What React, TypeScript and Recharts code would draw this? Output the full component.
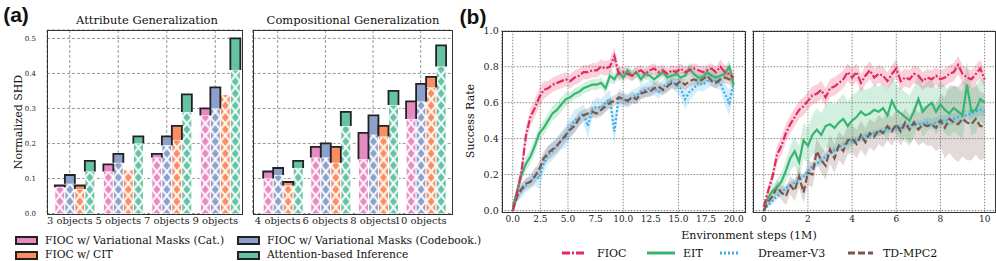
import React from "react";
import { BarChart, Bar, XAxis, YAxis, CartesianGrid, ComposedChart, Line, Area } from "recharts";

// ---------- panel (a): normalized SHD ----------
const attrCategories = ["3 objects", "5 objects", "7 objects", "9 objects"];
const compCategories = ["4 objects", "6 objects", "8 objects", "10 objects"];
const shdTicks = [0, 0.1, 0.2, 0.3, 0.4, 0.5];

// hatched part = lower value, outlined box on top = upper value
const attrCatLow = [0.075, 0.12, 0.16, 0.28];
const attrCatHigh = [0.08, 0.14, 0.17, 0.3];
const attrCodeLow = [0.085, 0.145, 0.195, 0.3];
const attrCodeHigh = [0.11, 0.17, 0.22, 0.36];
const attrCitLow = [0.07, 0.125, 0.21, 0.34];
const attrCitHigh = [0.08, 0.125, 0.25, 0.34];
const attrAttnLow = [0.12, 0.2, 0.29, 0.41];
const attrAttnHigh = [0.15, 0.22, 0.34, 0.5];

const compCatLow = [0.1, 0.16, 0.155, 0.27];
const compCatHigh = [0.12, 0.19, 0.23, 0.32];
const compCodeLow = [0.11, 0.16, 0.225, 0.32];
const compCodeHigh = [0.13, 0.2, 0.28, 0.37];
const compCitLow = [0.08, 0.145, 0.22, 0.36];
const compCitHigh = [0.09, 0.19, 0.25, 0.39];
const compAttnLow = [0.13, 0.25, 0.31, 0.42];
const compAttnHigh = [0.15, 0.29, 0.35, 0.48];

const methods = [
  { key: "cat", name: "FIOC w/ Variational Masks (Cat.)", color: "#e78ac3" },
  { key: "code", name: "FIOC w/ Variational Masks (Codebook.)", color: "#8da0cb" },
  { key: "cit", name: "FIOC w/ CIT", color: "#fc8d62" },
  { key: "attn", name: "Attention-based Inference", color: "#66c2a5" },
];

// ---------- panel (b): success rate ----------
const leftSteps = [0, 0.4, 0.8, 1.2, 1.6, 2, 2.4, 2.8, 3.2, 3.6, 4, 4.4, 4.8, 5.2, 5.6, 6, 6.4, 6.8, 7.2, 7.6, 8, 8.4, 8.8, 9.2, 9.6, 10, 10.4, 10.8, 11.2, 11.6, 12, 12.4, 12.8, 13.2, 13.6, 14, 14.4, 14.8, 15.2, 15.6, 16, 16.4, 16.8, 17.2, 17.6, 18, 18.4, 18.8, 19.2, 19.6, 20];
const leftTicks = [0, 2.5, 5, 7.5, 10, 12.5, 15, 17.5, 20];
const leftFioc = [0.0, 0.1, 0.22, 0.42, 0.52, 0.57, 0.63, 0.67, 0.68, 0.7, 0.71, 0.72, 0.73, 0.72, 0.74, 0.75, 0.77, 0.77, 0.78, 0.78, 0.8, 0.79, 0.8, 0.86, 0.76, 0.77, 0.76, 0.75, 0.77, 0.78, 0.76, 0.78, 0.79, 0.77, 0.78, 0.76, 0.78, 0.77, 0.79, 0.77, 0.78, 0.79, 0.78, 0.77, 0.78, 0.79, 0.77, 0.8, 0.77, 0.76, 0.74];
const leftFiocSpread = [0.01, 0.03, 0.05, 0.05, 0.05, 0.05, 0.05, 0.05, 0.04, 0.04, 0.04, 0.04, 0.04, 0.04, 0.04, 0.04, 0.04, 0.04, 0.04, 0.04, 0.04, 0.04, 0.04, 0.05, 0.04, 0.03, 0.03, 0.03, 0.03, 0.03, 0.03, 0.03, 0.03, 0.03, 0.03, 0.03, 0.03, 0.03, 0.03, 0.03, 0.03, 0.03, 0.03, 0.03, 0.03, 0.03, 0.03, 0.04, 0.04, 0.04, 0.04];
const leftEit = [0.02, 0.11, 0.2, 0.26, 0.3, 0.36, 0.43, 0.46, 0.5, 0.54, 0.56, 0.59, 0.62, 0.63, 0.65, 0.66, 0.68, 0.69, 0.7, 0.7, 0.71, 0.68, 0.75, 0.73, 0.77, 0.74, 0.78, 0.75, 0.77, 0.73, 0.76, 0.75, 0.73, 0.75, 0.77, 0.74, 0.75, 0.76, 0.74, 0.75, 0.79, 0.76, 0.74, 0.74, 0.77, 0.75, 0.74, 0.75, 0.76, 0.8, 0.7];
const leftEitSpread = [0.01, 0.03, 0.04, 0.04, 0.04, 0.04, 0.04, 0.04, 0.04, 0.04, 0.04, 0.04, 0.04, 0.03, 0.03, 0.03, 0.03, 0.03, 0.03, 0.03, 0.03, 0.03, 0.04, 0.03, 0.03, 0.03, 0.03, 0.03, 0.03, 0.03, 0.03, 0.03, 0.03, 0.03, 0.03, 0.03, 0.03, 0.03, 0.03, 0.03, 0.03, 0.03, 0.03, 0.03, 0.03, 0.03, 0.03, 0.03, 0.03, 0.04, 0.04];
const leftDreamer = [0.0, 0.08, 0.11, 0.14, 0.16, 0.19, 0.18, 0.26, 0.31, 0.33, 0.36, 0.39, 0.41, 0.46, 0.5, 0.52, 0.54, 0.47, 0.56, 0.58, 0.57, 0.6, 0.62, 0.44, 0.63, 0.62, 0.61, 0.63, 0.64, 0.66, 0.67, 0.68, 0.68, 0.66, 0.69, 0.7, 0.72, 0.7, 0.68, 0.62, 0.66, 0.68, 0.71, 0.7, 0.72, 0.73, 0.72, 0.71, 0.65, 0.6, 0.71];
const leftDreamerSpread = [0.01, 0.03, 0.04, 0.04, 0.04, 0.05, 0.06, 0.05, 0.05, 0.05, 0.05, 0.05, 0.06, 0.06, 0.06, 0.05, 0.05, 0.07, 0.05, 0.05, 0.05, 0.05, 0.05, 0.08, 0.05, 0.04, 0.04, 0.04, 0.04, 0.04, 0.04, 0.04, 0.04, 0.04, 0.04, 0.04, 0.04, 0.04, 0.05, 0.06, 0.05, 0.04, 0.04, 0.04, 0.04, 0.04, 0.04, 0.04, 0.06, 0.07, 0.05];
const leftTd = [0.0, 0.08, 0.12, 0.15, 0.16, 0.19, 0.23, 0.29, 0.32, 0.34, 0.36, 0.39, 0.42, 0.45, 0.47, 0.51, 0.53, 0.54, 0.55, 0.54, 0.56, 0.58, 0.6, 0.61, 0.63, 0.62, 0.61, 0.63, 0.62, 0.65, 0.66, 0.66, 0.68, 0.69, 0.67, 0.69, 0.71, 0.7, 0.72, 0.7, 0.72, 0.73, 0.72, 0.73, 0.75, 0.72, 0.71, 0.73, 0.74, 0.73, 0.72];
const leftTdSpread = [0.01, 0.03, 0.03, 0.03, 0.03, 0.04, 0.04, 0.04, 0.04, 0.04, 0.04, 0.04, 0.04, 0.04, 0.04, 0.04, 0.03, 0.03, 0.03, 0.03, 0.03, 0.03, 0.03, 0.03, 0.03, 0.03, 0.03, 0.03, 0.03, 0.03, 0.03, 0.03, 0.03, 0.03, 0.03, 0.03, 0.03, 0.03, 0.03, 0.03, 0.03, 0.03, 0.03, 0.03, 0.03, 0.03, 0.03, 0.03, 0.03, 0.03, 0.03];

const rightSteps = [0, 0.2, 0.4, 0.6, 0.8, 1, 1.2, 1.4, 1.6, 1.8, 2, 2.2, 2.4, 2.6, 2.8, 3, 3.2, 3.4, 3.6, 3.8, 4, 4.2, 4.4, 4.6, 4.8, 5, 5.2, 5.4, 5.6, 5.8, 6, 6.2, 6.4, 6.6, 6.8, 7, 7.2, 7.4, 7.6, 7.8, 8, 8.2, 8.4, 8.6, 8.8, 9, 9.2, 9.4, 9.6, 9.8, 10];
const rightTicks = [0, 2, 4, 6, 8, 10];
const rightFioc = [0.02, 0.11, 0.19, 0.31, 0.36, 0.43, 0.48, 0.52, 0.56, 0.58, 0.61, 0.64, 0.65, 0.67, 0.63, 0.68, 0.69, 0.71, 0.73, 0.77, 0.74, 0.77, 0.71, 0.75, 0.78, 0.74, 0.76, 0.75, 0.72, 0.76, 0.79, 0.72, 0.74, 0.73, 0.76, 0.75, 0.72, 0.74, 0.73, 0.75, 0.73, 0.74, 0.76, 0.77, 0.81, 0.76, 0.74, 0.73, 0.76, 0.79, 0.73];
const rightFiocSpread = [0.01, 0.03, 0.04, 0.05, 0.05, 0.05, 0.05, 0.05, 0.05, 0.05, 0.05, 0.05, 0.05, 0.05, 0.05, 0.05, 0.05, 0.05, 0.05, 0.05, 0.05, 0.05, 0.05, 0.05, 0.05, 0.05, 0.05, 0.05, 0.05, 0.05, 0.05, 0.05, 0.05, 0.05, 0.05, 0.05, 0.05, 0.05, 0.05, 0.05, 0.05, 0.05, 0.05, 0.05, 0.05, 0.05, 0.05, 0.05, 0.05, 0.05, 0.05];
const rightEit = [0.02, 0.07, 0.11, 0.13, 0.16, 0.22, 0.29, 0.33, 0.27, 0.39, 0.36, 0.42, 0.45, 0.42, 0.47, 0.48, 0.46, 0.49, 0.51, 0.47, 0.5, 0.52, 0.55, 0.53, 0.54, 0.56, 0.55, 0.57, 0.53, 0.61, 0.56, 0.54, 0.52, 0.5, 0.55, 0.62, 0.55, 0.58, 0.6, 0.55, 0.59, 0.56, 0.54, 0.57, 0.55, 0.53, 0.7, 0.55, 0.56, 0.62, 0.6];
const rightEitSpread = [0.01, 0.02, 0.03, 0.04, 0.05, 0.06, 0.07, 0.08, 0.09, 0.1, 0.1, 0.11, 0.12, 0.12, 0.12, 0.13, 0.13, 0.13, 0.14, 0.14, 0.14, 0.14, 0.14, 0.14, 0.14, 0.14, 0.14, 0.14, 0.14, 0.14, 0.14, 0.14, 0.14, 0.14, 0.14, 0.14, 0.14, 0.14, 0.13, 0.13, 0.13, 0.13, 0.13, 0.13, 0.13, 0.13, 0.13, 0.13, 0.13, 0.12, 0.12];
const rightDreamer = [0.0, 0.03, 0.055, 0.08, 0.1, 0.125, 0.14, 0.155, 0.17, 0.19, 0.22, 0.245, 0.26, 0.28, 0.3, 0.32, 0.335, 0.35, 0.365, 0.38, 0.39, 0.39, 0.4, 0.415, 0.42, 0.43, 0.435, 0.44, 0.455, 0.45, 0.46, 0.46, 0.47, 0.47, 0.48, 0.48, 0.485, 0.49, 0.48, 0.49, 0.5, 0.5, 0.505, 0.51, 0.52, 0.525, 0.53, 0.54, 0.55, 0.56, 0.55];
const rightDreamerSpread = [0.01, 0.01, 0.02, 0.02, 0.02, 0.02, 0.02, 0.02, 0.02, 0.02, 0.02, 0.02, 0.02, 0.02, 0.02, 0.02, 0.02, 0.02, 0.02, 0.02, 0.02, 0.02, 0.02, 0.02, 0.02, 0.02, 0.02, 0.02, 0.02, 0.02, 0.02, 0.02, 0.02, 0.02, 0.02, 0.02, 0.02, 0.03, 0.03, 0.03, 0.03, 0.03, 0.03, 0.03, 0.03, 0.03, 0.03, 0.03, 0.03, 0.03, 0.03];
const rightTd = [0.0, 0.05, 0.08, 0.13, 0.1, 0.08, 0.14, 0.11, 0.19, 0.1, 0.21, 0.2, 0.33, 0.28, 0.25, 0.34, 0.29, 0.36, 0.33, 0.39, 0.4, 0.37, 0.42, 0.38, 0.43, 0.41, 0.45, 0.43, 0.47, 0.44, 0.48, 0.44, 0.49, 0.45, 0.49, 0.45, 0.48, 0.47, 0.48, 0.46, 0.5, 0.46, 0.51, 0.49, 0.48, 0.51, 0.49, 0.48, 0.51, 0.47, 0.47];
const rightTdSpread = [0.01, 0.02, 0.03, 0.04, 0.04, 0.05, 0.05, 0.06, 0.06, 0.06, 0.07, 0.07, 0.07, 0.07, 0.08, 0.08, 0.08, 0.08, 0.08, 0.08, 0.08, 0.08, 0.08, 0.08, 0.08, 0.08, 0.08, 0.08, 0.08, 0.08, 0.08, 0.08, 0.08, 0.08, 0.09, 0.09, 0.1, 0.11, 0.12, 0.13, 0.15, 0.17, 0.19, 0.2, 0.21, 0.21, 0.21, 0.2, 0.2, 0.19, 0.18];
const rateTicks = [0, 0.2, 0.4, 0.6, 0.8, 1.0];

const series = [
  { key: "fioc", name: "FIOC", color: "#e32b5f", dash: "8 2 2 2" },
  { key: "eit", name: "EIT", color: "#35b56f", dash: undefined },
  { key: "dreamer", name: "Dreamer-V3", color: "#3aaee6", dash: "2 2" },
  { key: "td", name: "TD-MPC2", color: "#7a5650", dash: "7 3" },
];

const FONT = "DejaVu Serif";
const SHIFT = 4.5; // bar groups sit a bit right of the tick

function shdRows(cats: string[], lows: number[][], highs: number[][]) {
  return cats.map((name, i) => {
    const row: any = { name };
    methods.forEach((m, j) => {
      row[m.key + "Low"] = lows[j][i];
      row[m.key + "Top"] = Math.max(0, highs[j][i] - lows[j][i]);
    });
    return row;
  });
}

function rateRows(steps: number[], means: number[][], spreads: number[][]) {
  return steps.map((step, i) => {
    const row: any = { step };
    series.forEach((s, j) => {
      row[s.key] = means[j][i];
      row[s.key + "Band"] = [means[j][i] - spreads[j][i], means[j][i] + spreads[j][i]];
    });
    return row;
  });
}

const attrData = shdRows(attrCategories, [attrCatLow, attrCodeLow, attrCitLow, attrAttnLow], [attrCatHigh, attrCodeHigh, attrCitHigh, attrAttnHigh]);
const compData = shdRows(compCategories, [compCatLow, compCodeLow, compCitLow, compAttnLow], [compCatHigh, compCodeHigh, compCitHigh, compAttnHigh]);
const leftData = rateRows(leftSteps, [leftFioc, leftEit, leftDreamer, leftTd], [leftFiocSpread, leftEitSpread, leftDreamerSpread, leftTdSpread]);
const rightData = rateRows(rightSteps, [rightFioc, rightEit, rightDreamer, rightTd], [rightFiocSpread, rightEitSpread, rightDreamerSpread, rightTdSpread]);

function hatchShape(chartId: string, key: string, color: string) {
  return (p: any) => {
    const { x, y, width, height, index } = p;
    if (!height || height <= 0) return <g />;
    const id = `${chartId}-${key}-${index}`;
    const bx = x + SHIFT;
    const ph = width * 1.2;
    return (
      <g>
        <defs>
          <pattern id={id} patternUnits="userSpaceOnUse" x={bx} y={y + height} width={width} height={ph}>
            <rect width={width} height={ph} fill={color} />
            <path d={`M0,0 L${width},${ph} M${width},0 L0,${ph}`} stroke="#fff" strokeWidth={2} />
          </pattern>
        </defs>
        <rect x={bx} y={y} width={width} height={height} fill={`url(#${id})`} stroke="#fff" strokeWidth={1} />
      </g>
    );
  };
}

function topShape(color: string) {
  return (p: any) => {
    const { x, y, width, height } = p;
    if (!height || height <= 0) return <g />;
    const bx = x + SHIFT;
    return (
      <g>
        <rect x={bx} y={y} width={width} height={height} fill={color} />
        <path d={`M${bx},${y + height} V${y} H${bx + width} V${y + height}`} fill="none" stroke="#222" strokeWidth={1.8} />
      </g>
    );
  };
}

function ShdChart({ id, data, showY, padding, marginLeft, width }: any) {
  return (
    <BarChart width={width} height={235} data={data} barCategoryGap="10%" barGap={0}
      margin={{ top: 30, right: 0, bottom: 0, left: marginLeft }}>
      <CartesianGrid stroke="#999" strokeDasharray="3 2" />
      <XAxis dataKey="name" interval={0} padding={padding} height={21.5} axisLine={false} tickLine={false}
        tickSize={0} tickMargin={3} tick={{ fontSize: 10, fill: "#222", fontFamily: FONT }} />
      <YAxis domain={[0, 0.524]} ticks={shdTicks} hide={!showY} width={30} axisLine={false} tickLine={false}
        tickSize={0} tickMargin={11} tickFormatter={(v: number) => v.toFixed(1)}
        tick={{ fontSize: 7, fill: "#222", fontFamily: FONT }} allowDataOverflow />
      {methods.map((m) => (
        <Bar key={m.key + "Low"} dataKey={m.key + "Low"} stackId={m.key} fill={m.color}
          shape={hatchShape(id, m.key, m.color)} isAnimationActive={false} />
      ))}
      {methods.map((m) => (
        <Bar key={m.key + "Top"} dataKey={m.key + "Top"} stackId={m.key} fill={m.color}
          shape={topShape(m.color)} isAnimationActive={false} />
      ))}
    </BarChart>
  );
}

function RateChart({ data, ticks, domain, showY, width, marginLeft }: any) {
  const order = ["dreamer", "td", "eit", "fioc"];
  const drawn = order.map((k) => series.find((s) => s.key === k)!);
  return (
    <ComposedChart width={width} height={230.3} data={data}
      margin={{ top: 30.8, right: 0.3, bottom: 0, left: marginLeft }}>
      <CartesianGrid stroke="#8a8a8a" strokeDasharray="1.5 1.5" />
      <XAxis type="number" dataKey="step" domain={domain} ticks={ticks} height={18} axisLine={false}
        tickLine={false} tickSize={0} tickMargin={3} allowDataOverflow
        tickFormatter={(v: number) => (domain[1] > 12 ? v.toFixed(1) : String(v))}
        tick={{ fontSize: 9, fill: "#222", fontFamily: FONT }} />
      <YAxis domain={[0, 1]} ticks={rateTicks} hide={!showY} width={30} axisLine={false} tickLine={false}
        tickSize={0} tickMargin={3} tickFormatter={(v: number) => v.toFixed(1)}
        tick={{ fontSize: 9.5, fill: "#222", fontFamily: FONT }} />
      {drawn.map((s) => (
        <Area key={s.key + "Band"} type="linear" dataKey={s.key + "Band"} stroke="none" fill={s.color}
          fillOpacity={0.22} isAnimationActive={false} />
      ))}
      {drawn.map((s) => (
        <Line key={s.key} type="linear" dataKey={s.key} stroke={s.color} strokeWidth={2.2}
          strokeDasharray={s.dash} dot={false} isAnimationActive={false} />
      ))}
    </ComposedChart>
  );
}

const abs = (left: number, top: number, extra: any = {}) => ({ position: "absolute" as const, left, top, ...extra });

function Frame({ x, y, w, h }: any) {
  return <div style={abs(x, y, { width: w, height: h, border: "1px solid #333", boxSizing: "border-box", pointerEvents: "none" })} />;
}

function Text({ x, y, children, size = 11, rotate = 0, weight = 400, family = FONT, align = "center" }: any) {
  const tx = align === "center" ? "-50%" : "0";
  return (
    <div style={abs(x, y, {
      transform: `translate(${tx}, -50%) rotate(${rotate}deg)`, fontSize: size, fontFamily: family,
      fontWeight: weight, whiteSpace: "nowrap", color: "#111", lineHeight: 1,
    })}>{children}</div>
  );
}

function LineSwatch({ x, y, color, dash, w }: any) {
  return (
    <svg style={abs(x, y - 4)} width={w} height={8}>
      <line x1={0} y1={4} x2={w} y2={4} stroke={color} strokeWidth={3} strokeDasharray={dash} />
    </svg>
  );
}

export default function App() {
  return (
    <div style={{ position: "absolute", left: 0, top: 0, width: 996, height: 261, background: "#fff", overflow: "hidden" }}>
      <div style={abs(0, 0)}>
        <ShdChart id="attr" data={attrData} showY padding={{ left: -1.5, right: 3.5 }} marginLeft={17} width={243} />
      </div>
      <div style={abs(250, 0)}>
        <ShdChart id="comp" data={compData} showY={false} padding={{ left: 1.2, right: 8 }} marginLeft={2.7} width={202.5} />
      </div>
      <Frame x={47} y={30} w={196} h={184.5} />
      <Frame x={252.5} y={30} w={200} h={184.5} />

      <div style={abs(460, 0)}>
        <RateChart data={leftData} ticks={leftTicks} domain={[-1, 21]} showY width={285} marginLeft={11.7} />
      </div>
      <div style={abs(748, 0)}>
        <RateChart data={rightData} ticks={rightTicks} domain={[-0.5, 10.5]} showY={false} width={248} marginLeft={4.7} />
      </div>
      <Frame x={501.5} y={30.5} w={244} h={182.5} />
      <Frame x={752.5} y={30.5} w={243.5} h={182.5} />

      <Text x={16} y={14} size={21} weight={700} family="Liberation Sans">(a)</Text>
      <Text x={473} y={16} size={21} weight={700} family="Liberation Sans">(b)</Text>
      <Text x={147} y={21} size={11.5}>Attribute Generalization</Text>
      <Text x={353} y={21} size={11.5}>Compositional Generalization</Text>
      <Text x={18} y={122} size={11} rotate={-90}>Normalized SHD</Text>
      <Text x={470} y={121} size={11} rotate={-90}>Success Rate</Text>
      <Text x={749} y={235} size={11}>Environment steps (1M)</Text>

      {methods.map((m, i) => {
        const col = i === 0 || i === 2 ? 0 : 1;
        const row = i < 2 ? 0 : 1;
        const sx = col === 0 ? 15 : 237;
        const cy = row === 0 ? 240.7 : 255;
        return (
          <React.Fragment key={m.key}>
            <div style={abs(sx, cy - 4.5, { width: 23, height: 9, background: m.color, border: "2px solid #222", boxSizing: "border-box" })} />
            <Text x={sx + 30} y={cy} size={10.7} align="left">{m.name}</Text>
          </React.Fragment>
        );
      })}

      {series.map((s, i) => {
        const sw = [562, 647, 720, 848][i];
        const tx = [597, 683, 758, 883][i];
        const w = [23, 28, 20, 25][i];
        return (
          <React.Fragment key={s.key}>
            <LineSwatch x={sw} y={252.7} color={s.color} dash={s.dash} w={w} />
            <Text x={tx} y={252.7} size={11} align="left">{s.name}</Text>
          </React.Fragment>
        );
      })}
    </div>
  );
}
